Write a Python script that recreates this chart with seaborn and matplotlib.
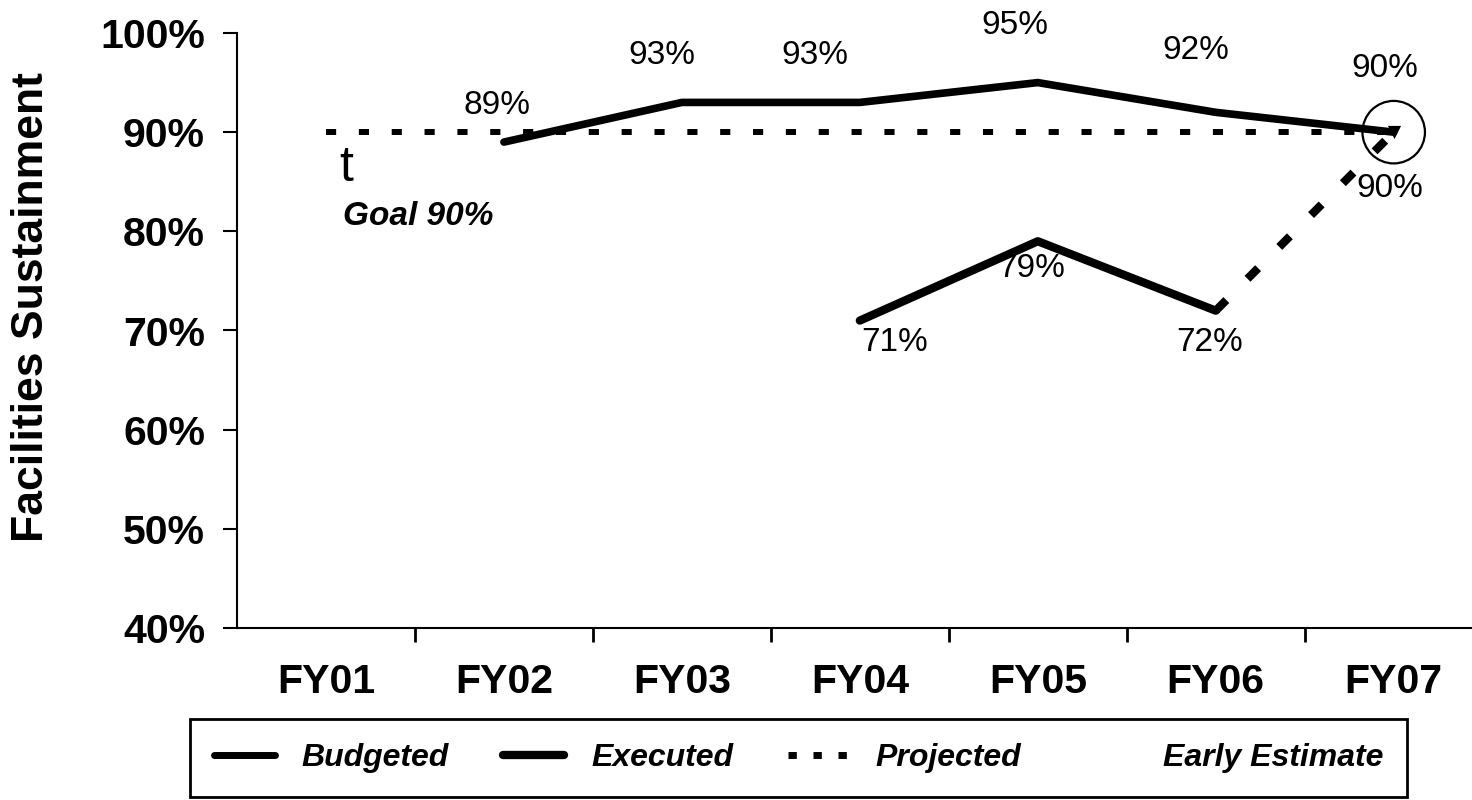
import matplotlib
matplotlib.use("Agg")
import matplotlib.pyplot as plt
import seaborn as sns
import pandas as pd
from matplotlib.lines import Line2D

# ---------------- data ----------------
years = ["FY01", "FY02", "FY03", "FY04", "FY05", "FY06", "FY07"]
budget_years = ["FY02", "FY03", "FY04", "FY05", "FY06", "FY07"]
budgeted = [89, 93, 93, 95, 92, 90]
executed_years = ["FY04", "FY05", "FY06"]
executed = [71, 79, 72]
projected_years = ["FY06", "FY07"]
projected = [72, 90]
goal_years = ["FY01", "FY02", "FY03", "FY04", "FY05", "FY06", "FY07"]
goal = [90, 90, 90, 90, 90, 90, 90]
early_years = ["FY07"]
early_estimate = [90]
yticks = [40, 50, 60, 70, 80, 90, 100]
ytick_labels = ["40%", "50%", "60%", "70%", "80%", "90%", "100%"]
legend_labels = ["Budgeted", "Executed", "Projected", "Early Estimate"]

# label offsets (pixels) relative to each point
budget_offsets = [(-7, 37), (-20, 47), (-45, 47), (-23, 57), (-20, 62), (-9, 64)]
executed_offsets = [(35, -22), (-6, -27), (-6, -32)]
projected_label_offset = (-4, -56)

# ---------------- style ----------------
sns.set_theme(style="white")
plt.rcParams['font.family'] = ['Liberation Sans', 'DejaVu Sans']
plt.rcParams['text.color'] = 'black'

fig = plt.figure(figsize=(14.72, 8), dpi=100)
ax = fig.add_axes([237 / 1472, 172 / 800, (1472 - 237) / 1472, 595 / 800])

pos = {y: i for i, y in enumerate(years)}


def frame(yrs, vals):
    return pd.DataFrame({"x": [pos[y] for y in yrs], "v": vals})


PX = 0.72  # points per pixel

# goal line (dotted)
sns.lineplot(data=frame(goal_years, goal), x="x", y="v", ax=ax, color="black",
             lw=4.3, linestyle=(0, (1.7, 3.8)), dash_capstyle="butt")
# budgeted
sns.lineplot(data=frame(budget_years, budgeted), x="x", y="v", ax=ax,
             color="black", lw=5.5, solid_joinstyle="round")
# executed
sns.lineplot(data=frame(executed_years, executed), x="x", y="v", ax=ax,
             color="black", lw=6, solid_joinstyle="round")
# projected
sns.lineplot(data=frame(projected_years, projected), x="x", y="v", ax=ax,
             color="black", lw=6, linestyle=(0, (1.8, 3.6)),
             dash_capstyle="butt")
# early estimate circle
ed = frame(early_years, early_estimate)
sns.scatterplot(data=ed, x="x", y="v", ax=ax, s=45 ** 2, facecolor="none",
                edgecolor="black", linewidth=1.6, zorder=5)
sns.scatterplot(data=ed, x="x", y="v", ax=ax, s=90, color="black",
                marker="v", linewidth=0, zorder=6)

# data labels
for yr, v, (dx, dy) in zip(budget_years, budgeted, budget_offsets):
    ax.annotate(f"{v}%", (pos[yr], v), xytext=(dx * PX, dy * PX),
                textcoords="offset points", ha="center", va="center",
                fontsize=24, color="black")
for yr, v, (dx, dy) in zip(executed_years, executed, executed_offsets):
    ax.annotate(f"{v}%", (pos[yr], v), xytext=(dx * PX, dy * PX),
                textcoords="offset points", ha="center", va="center",
                fontsize=24, color="black")
ax.annotate(f"{projected[-1]}%", (pos[projected_years[-1]], projected[-1]),
            xytext=(projected_label_offset[0] * PX, projected_label_offset[1] * PX),
            textcoords="offset points", ha="center", va="center",
            fontsize=24, color="black")

# goal annotation
ax.annotate("t", (pos[goal_years[0]], goal[0]), xytext=(20 * PX, -36 * PX),
            textcoords="offset points", ha="center", va="center",
            fontsize=36, color="black")
ax.annotate(f"Goal {goal[0]}%", (pos[goal_years[0]], goal[0]),
            xytext=(17 * PX, -84 * PX), textcoords="offset points",
            ha="left", va="center", fontsize=24, fontweight="bold",
            fontstyle="italic", color="black")

# axes
ax.set_xlim(-0.5, 6.44)
ax.set_ylim(40, 100)
ax.set_yticks(yticks)
ax.set_yticklabels(ytick_labels)
ax.set_xticks(range(len(years)))
ax.set_xticklabels(years)
ax.set_xticks([i + 0.5 for i in range(len(years) - 1)], minor=True)
for lab in ax.get_xticklabels() + ax.get_yticklabels():
    lab.set_fontweight("bold")
    lab.set_fontsize(29.5)
    lab.set_color("black")
ax.tick_params(axis="x", which="major", length=0, pad=25)
ax.tick_params(axis="x", which="minor", bottom=True, length=10, width=2,
               direction="out", color="black")
ax.tick_params(axis="y", which="major", left=True, length=10, width=1.5,
               direction="out", pad=13, color="black")
ax.set_xlabel("")
ax.set_ylabel("Facilities Sustainment", fontsize=32, fontweight="bold",
              color="black")
ax.yaxis.set_label_coords(-0.15, 0.539)
for side in ["top", "right"]:
    ax.spines[side].set_visible(False)
for side in ["left", "bottom"]:
    ax.spines[side].set_color("black")
    ax.spines[side].set_linewidth(1.5)

# legend
handles = [
    Line2D([], [], color="black", lw=5),
    Line2D([], [], color="black", lw=6),
    Line2D([], [], color="black", lw=5, linestyle=(0, (1.2, 2.4))),
    Line2D([], [], color="none", lw=0),
]
leg = fig.legend(handles, legend_labels, loc="lower left",
                 bbox_to_anchor=(190 / 1472, 3 / 800),
                 ncol=4, frameon=True, fancybox=False, framealpha=1,
                 edgecolor="black", handlelength=1.9, handletextpad=0.85,
                 columnspacing=1.7, borderpad=0.75, borderaxespad=0,
                 prop={"size": 23, "style": "italic", "weight": "bold"})
leg.get_frame().set_linewidth(2)
leg.get_frame().set_edgecolor("black")
for t in leg.get_texts():
    t.set_color("black")

fig.savefig("out.png", dpi=100, facecolor="white")
